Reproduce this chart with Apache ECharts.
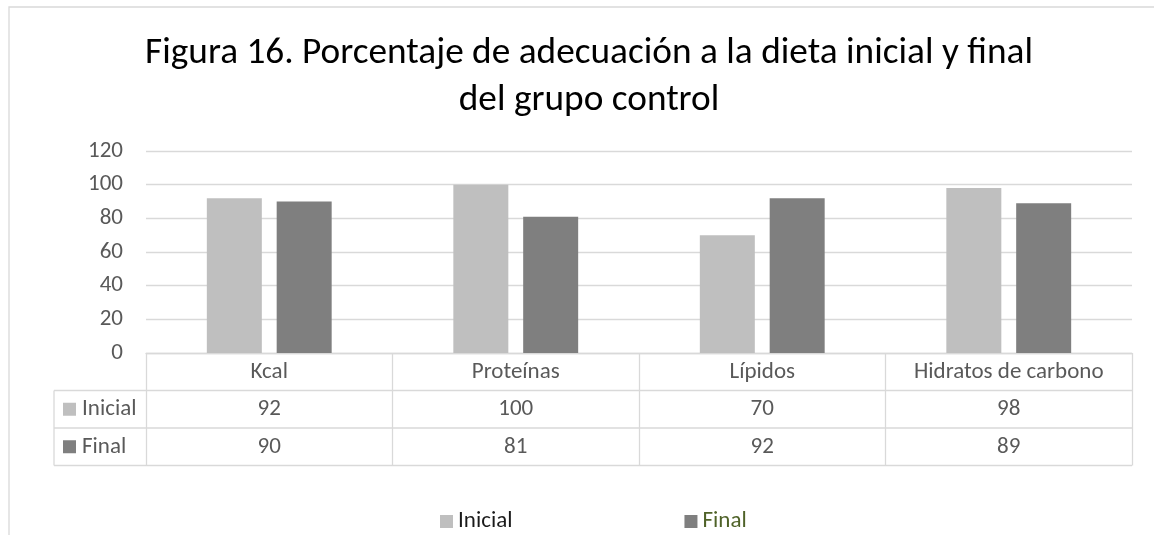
<!DOCTYPE html>
<html>
<head>
<meta charset="utf-8">
<script src="https://cdn.jsdelivr.net/npm/echarts@6/dist/echarts.min.js"></script>
<style>
  html, body { margin: 0; padding: 0; background: #fff; }
  #chart { width: 1154px; height: 535px; }
</style>
</head>
<body>
<div id="chart"></div>
<script>
// datos
var categories = ['Kcal', 'Proteínas', 'Lípidos', 'Hidratos de carbono'];
var inicial = [92, 100, 70, 98];
var final = [90, 81, 92, 89];
var seriesNames = ['Inicial', 'Final'];
var yMin = 0, yMax = 120, yStep = 20;

var font = 'Carlito, Lato, sans-serif';
var lineColor = '#d9d9d9';
var textColor = '#595959';
var colInicial = '#bfbfbf';
var colFinal = '#7f7f7f';
var fs = 23;

// layout
var gridLeft = 146, gridRight = 1132, gridTop = 151, gridBottom = 353;
var rowH = 37.5;
var tableLeft = 54;
var row1 = gridBottom + rowH, row2 = row1 + rowH, row3 = row2 + rowH;

var myChart = echarts.init(document.getElementById('chart'));

function hline(y, x1, x2) {
  return { type: 'line', shape: { x1: x1, y1: y, x2: x2, y2: y }, style: { stroke: lineColor, lineWidth: 1.3 }, silent: true };
}
function vline(x, y1, y2) {
  return { type: 'line', shape: { x1: x, y1: y1, x2: x, y2: y2 }, style: { stroke: lineColor, lineWidth: 1.3 }, silent: true };
}
function rowKey(y, name, color) {
  return [
    { type: 'rect', shape: { x: 63, y: y - 6.5, width: 13, height: 13 }, style: { fill: color }, silent: true },
    { type: 'text', x: 82, y: y, style: { text: name, font: fs + 'px ' + font, fill: textColor, verticalAlign: 'middle' }, silent: true }
  ];
}

var graphics = [
  // marco exterior
  { type: 'rect', shape: { x: 9, y: 7, width: 1300, height: 700 }, style: { fill: 'none', stroke: lineColor, lineWidth: 1.3 }, silent: true },
  hline(row1, tableLeft, gridRight),
  hline(row2, tableLeft, gridRight),
  hline(row3, tableLeft, gridRight),
  vline(tableLeft, row1, row3)
].concat(rowKey((row1 + row2) / 2, seriesNames[0], colInicial))
 .concat(rowKey((row2 + row3) / 2, seriesNames[1], colFinal));

var option = {
  backgroundColor: '#fff',
  animation: false,
  title: {
    text: 'Figura 16. Porcentaje de adecuación a la dieta inicial y final\ndel grupo control',
    left: 584,
    textAlign: 'center',
    top: 25,
    textStyle: { fontFamily: font, fontSize: 37.3, fontWeight: 'normal', color: '#000', lineHeight: 47 }
  },
  legend: {
    left: 435,
    top: 505,
    itemWidth: 13,
    itemHeight: 13,
    itemGap: 172,
    icon: 'rect',
    textStyle: { fontFamily: font, fontSize: fs, color: '#1a1a1a' },
    data: [
      { name: seriesNames[0] },
      { name: seriesNames[1], textStyle: { color: '#4f6228' } }
    ]
  },
  grid: {
    left: gridLeft,
    right: 1154 - gridRight,
    top: gridTop,
    bottom: 535 - gridBottom,
    containLabel: false
  },
  xAxis: {
    type: 'category',
    data: categories,
    axisLine: { show: true, lineStyle: { color: lineColor, width: 1.3 } },
    axisTick: { show: true, length: rowH * 3, lineStyle: { color: lineColor, width: 1.3 } },
    axisLabel: {
      margin: 0,
      interval: 0,
      formatter: function (value, idx) {
        return '{h|' + value + '}\n{v|' + inicial[idx] + '}\n{v|' + final[idx] + '}';
      },
      rich: {
        h: { fontFamily: font, fontSize: fs, color: textColor, lineHeight: rowH },
        v: { fontFamily: font, fontSize: fs, color: textColor, lineHeight: rowH }
      }
    }
  },
  yAxis: {
    type: 'value',
    min: yMin,
    max: yMax,
    interval: yStep,
    axisLine: { show: false },
    axisTick: { show: false },
    splitLine: { lineStyle: { color: lineColor, width: 1.3 } },
    axisLabel: { fontFamily: font, fontSize: fs, color: textColor, margin: 23 }
  },
  series: [
    {
      name: seriesNames[0],
      type: 'bar',
      data: inicial,
      barWidth: 55,
      barGap: '27%',
      itemStyle: { color: colInicial }
    },
    {
      name: seriesNames[1],
      type: 'bar',
      data: final,
      barWidth: 55,
      itemStyle: { color: colFinal }
    }
  ],
  graphic: graphics
};

myChart.setOption(option);
window.addEventListener('resize', function () {
  myChart.resize();
});
</script>
</body>
</html>
